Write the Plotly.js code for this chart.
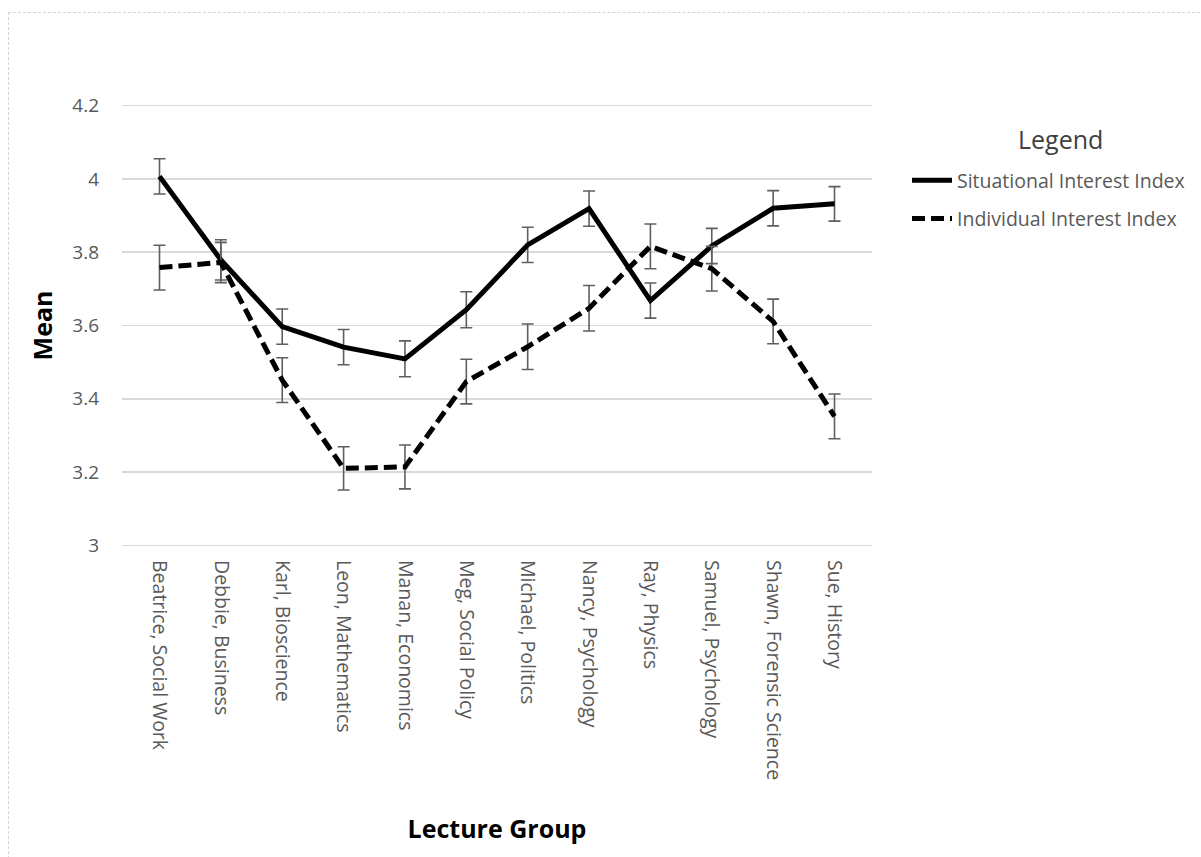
<!DOCTYPE html>
<html>
<head>
<meta charset="utf-8">
<script src="https://cdn.plot.ly/plotly-3.0.1.min.js"></script>
<style>
  html, body { margin: 0; padding: 0; overflow: hidden; background: #fff; }
  #chart { width: 1201px; height: 857px; position: absolute; left: 0; top: 0; }
  #frame { position: absolute; left: 8px; top: 12px; width: 1300px; height: 1000px;
           border: 1.5px dashed #d3d3d3; pointer-events: none; }
</style>
</head>
<body>
<div id="chart"></div>
<div id="frame"></div>
<script>
const categories = [
  "Beatrice, Social Work", "Debbie, Business", "Karl, Bioscience", "Leon, Mathematics",
  "Manan, Economics", "Meg, Social Policy", "Michael, Politics", "Nancy, Psychology",
  "Ray, Physics", "Samuel, Psychology", "Shawn, Forensic Science", "Sue, History"
];
const situational = [4.007, 3.779, 3.597, 3.541, 3.509, 3.643, 3.820, 3.919, 3.668, 3.817, 3.920, 3.932];
const situationalErr = [0.048, 0.055, 0.048, 0.048, 0.049, 0.049, 0.048, 0.048, 0.048, 0.048, 0.048, 0.047];
const individual = [3.758, 3.772, 3.451, 3.210, 3.214, 3.447, 3.542, 3.647, 3.816, 3.755, 3.611, 3.352];
const individualErr = [0.061, 0.055, 0.061, 0.059, 0.060, 0.061, 0.062, 0.062, 0.061, 0.061, 0.061, 0.061];
const yTicks = [3, 3.2, 3.4, 3.6, 3.8, 4, 4.2];
const yTickText = ["3", "3.2", "3.4", "3.6", "3.8", "4", "4.2"];
const legendTitle = "Legend";

const FONT = "'Open Sans', 'Segoe UI', sans-serif";
const errStyle = { type: 'data', visible: true, color: '#5f5f5f', thickness: 1.6, width: 6 };

const traces = [
  {
    x: categories, y: situational, name: 'Situational Interest Index',
    type: 'scatter', mode: 'lines', legendgroup: 'g1',
    line: { color: '#000000', width: 5 },
    error_y: Object.assign({ array: situationalErr }, errStyle)
  },
  {
    x: categories, y: individual, name: 'Individual Interest Index',
    type: 'scatter', mode: 'lines', legendgroup: 'g2',
    line: { color: '#000000', width: 5, dash: '13px,6px' },
    error_y: Object.assign({ array: individualErr }, errStyle)
  }
];

const layout = {
  width: 1201, height: 857,
  margin: { l: 122, r: 329, t: 102, b: 308, autoexpand: false },
  paper_bgcolor: '#ffffff', plot_bgcolor: '#ffffff',
  font: { family: FONT, color: '#595959', size: 19 },
  showlegend: true,
  legend: {
    xref: 'container', yref: 'container',
    x: 907 / 1201, xanchor: 'left', y: 1 - 161 / 857, yanchor: 'top',
    bgcolor: 'rgba(0,0,0,0)',
    font: { family: FONT, size: 19.5, color: '#595959' },
    traceorder: 'grouped', tracegroupgap: 10, itemwidth: 40
  },
  annotations: [{
    text: legendTitle, xref: 'paper', yref: 'paper',
    x: (1060 - 122) / 750, y: (549 - 140) / 446.3,
    xanchor: 'center', yanchor: 'middle', showarrow: false,
    font: { family: FONT, size: 25, color: '#404040' }
  }],
  xaxis: {
    type: 'category',
    tickangle: 90,
    tickfont: { family: FONT, size: 19.5, color: '#595959' },
    showgrid: false, zeroline: false, showline: false,
    ticks: '', ticklabelstandoff: 10,
    title: { text: '<b>Lecture Group</b>', font: { family: FONT, size: 25, color: '#000000' }, standoff: 41 }
  },
  yaxis: {
    range: [2.99, 4.21],
    tickvals: yTicks, ticktext: yTickText,
    tickfont: { family: FONT, size: 19, color: '#595959' },
    showgrid: true, gridcolor: '#d9d9d9', gridwidth: 1.5,
    zeroline: false, showline: false, ticks: '', ticklabelstandoff: 22,
    title: { text: '<b>Mean</b>', font: { family: FONT, size: 25, color: '#000000' }, standoff: 12 }
  }
};

Plotly.newPlot('chart', traces, layout, { displayModeBar: false, staticPlot: true });
</script>
</body>
</html>
